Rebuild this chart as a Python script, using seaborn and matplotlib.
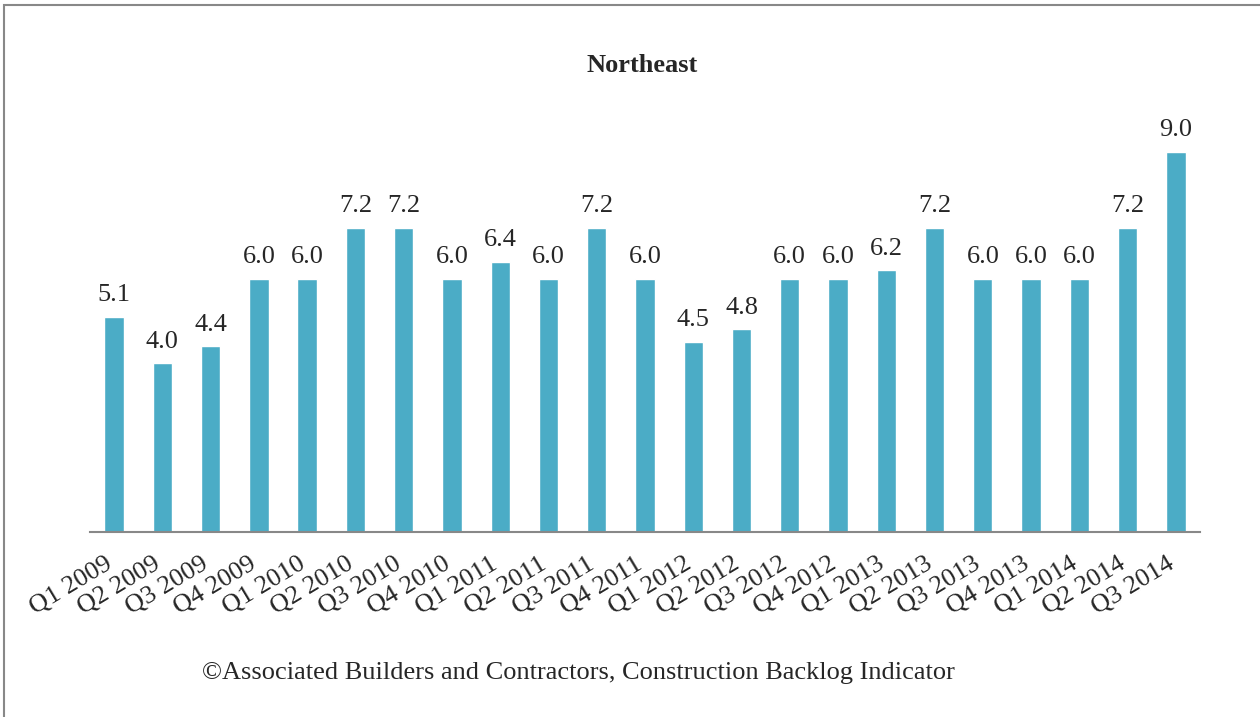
import seaborn as sns
import pandas as pd
import matplotlib.pyplot as plt
from matplotlib.patches import Rectangle
from matplotlib.transforms import ScaledTranslation

# Northeast backlog by quarter
quarters = ["Q1 2009", "Q2 2009", "Q3 2009", "Q4 2009",
            "Q1 2010", "Q2 2010", "Q3 2010", "Q4 2010",
            "Q1 2011", "Q2 2011", "Q3 2011", "Q4 2011",
            "Q1 2012", "Q2 2012", "Q3 2012", "Q4 2012",
            "Q1 2013", "Q2 2013", "Q3 2013", "Q4 2013",
            "Q1 2014", "Q2 2014", "Q3 2014"]
backlog = [5.1, 4.0, 4.4, 6.0,
           6.0, 7.2, 7.2, 6.0,
           6.4, 6.0, 7.2, 6.0,
           4.5, 4.8, 6.0, 6.0,
           6.2, 7.2, 6.0, 6.0,
           6.0, 7.2, 9.0]

df = pd.DataFrame({"quarter": quarters, "backlog": backlog})

sns.set_style("white")
plt.rcParams["font.family"] = ["Liberation Serif", "DejaVu Serif"]
FS = 19

fig = plt.figure(figsize=(12.6, 7.17), dpi=100)
ax = fig.add_axes([0.0714, 0.258, 0.881, 0.589])

sns.barplot(data=df, x="quarter", y="backlog", color="#4bacc6",
            saturation=1, width=0.4, ax=ax)

for i, v in enumerate(backlog):
    ax.text(i, v + 0.25, f"{v:.1f}", ha="center", va="bottom", fontsize=FS)

ax.set_ylim(0, 10)
ax.set_xlim(-0.5, len(quarters) - 0.5)
ax.set_xlabel("")
ax.set_ylabel("")
ax.set_yticks([])
ax.tick_params(axis="x", length=0, pad=22)
shift = ScaledTranslation(-4 / 100, 0, fig.dpi_scale_trans)
for lab in ax.get_xticklabels():
    lab.set_rotation(31)
    lab.set_ha("right")
    lab.set_va("center")
    lab.set_rotation_mode("anchor")
    lab.set_fontsize(FS)
    lab.set_transform(lab.get_transform() + shift)
for s in ["top", "right", "left"]:
    ax.spines[s].set_visible(False)
ax.spines["bottom"].set_color("#888888")
ax.spines["bottom"].set_linewidth(1.5)

fig.text(0.51, 0.909, "Northeast", ha="center", va="center",
         fontsize=FS, fontweight="bold")
fig.text(0.459, 0.061,
         "\u00a9Associated Builders and Contractors, Construction Backlog Indicator",
         ha="center", va="center", fontsize=FS)

# outer frame
fig.patches.append(Rectangle((0.003, -0.05), 1.1, 1.043, transform=fig.transFigure,
                             fill=False, edgecolor="#888888", linewidth=1.5))

fig.savefig("out.png", dpi=100)
